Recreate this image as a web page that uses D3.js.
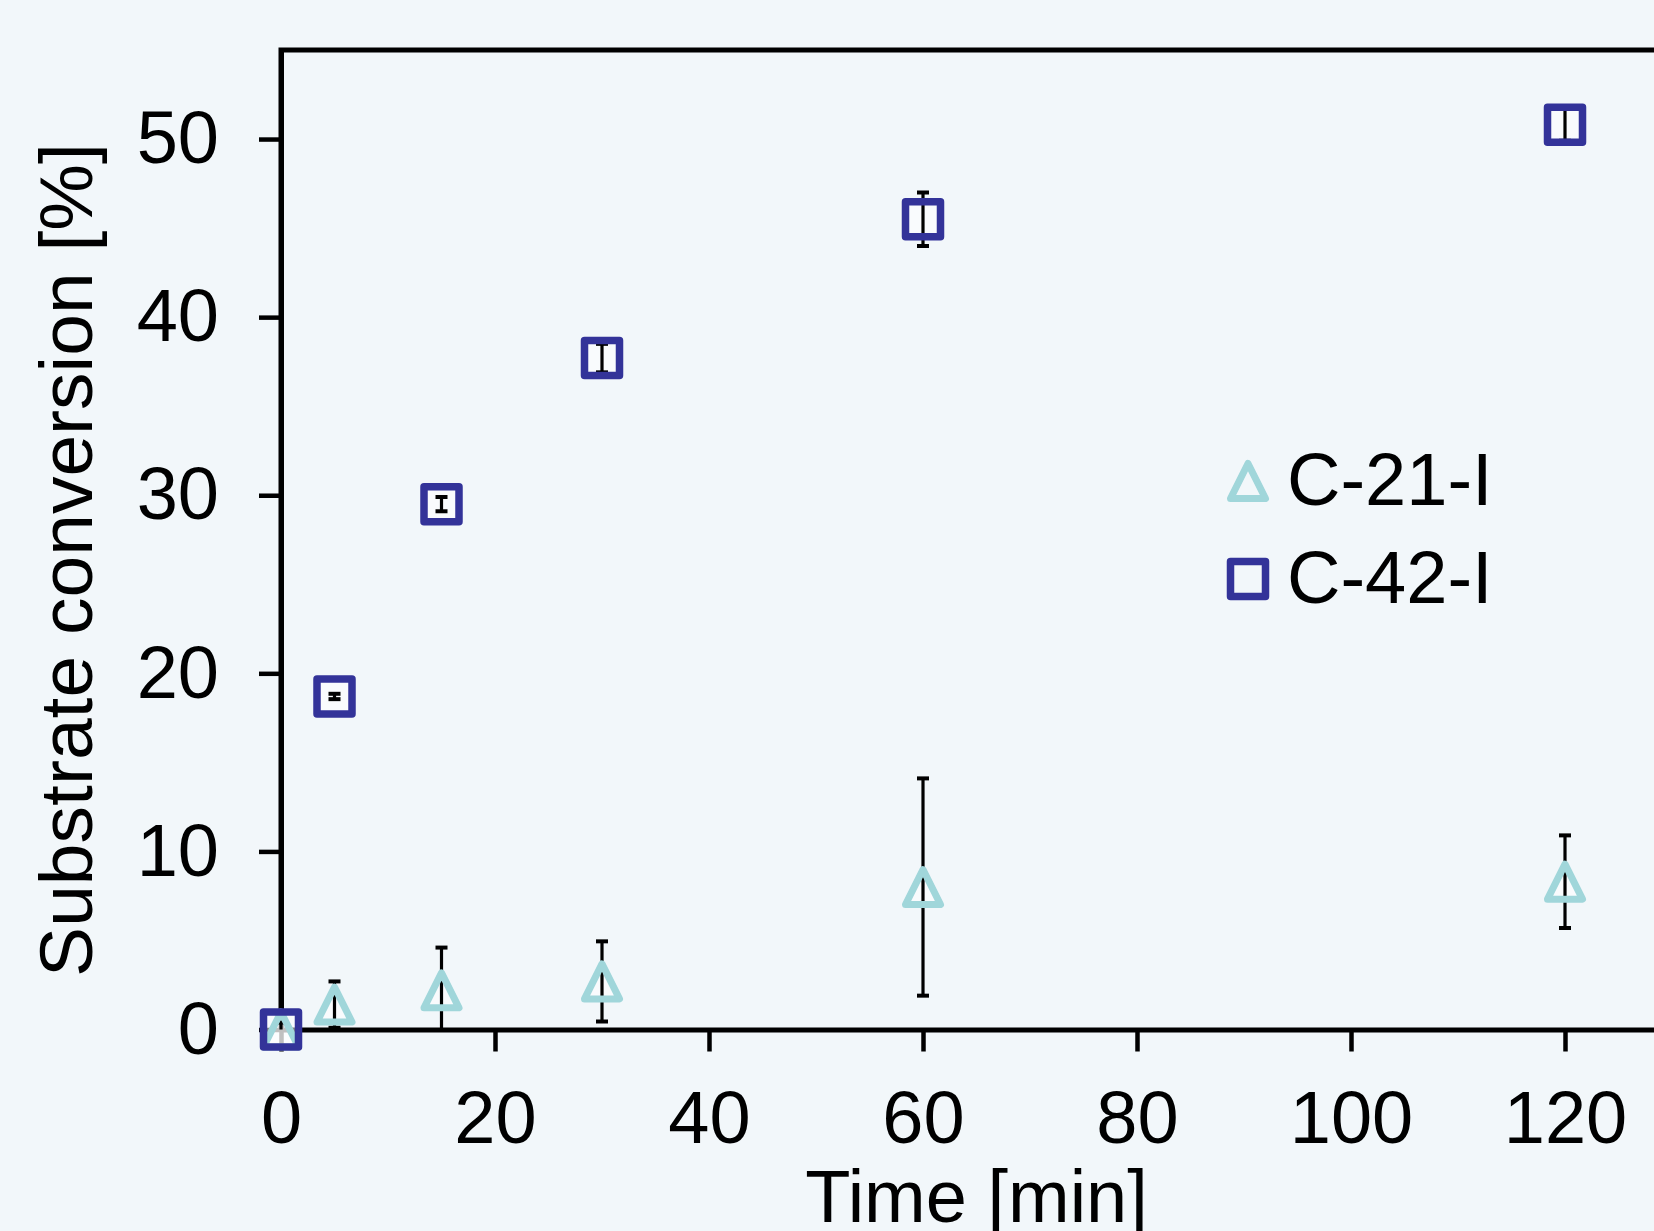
<!DOCTYPE html>
<html>
<head>
<meta charset="utf-8">
<script src="https://cdn.jsdelivr.net/npm/d3@7"></script>
<style>
  body { margin: 0; background: #f2f7fa; }
  svg { display: block; font-family: "Liberation Sans", Arial, sans-serif; }
</style>
</head>
<body>
<script>
// Data
var times = [0, 5, 15, 30, 60, 120];
var c21 = [0, 1.4, 2.2, 2.7, 8.0, 8.3];
var c21Err = [0.4, 1.3, 2.4, 2.25, 6.1, 2.6];
var c42 = [0, 18.7, 29.5, 37.7, 45.5, 50.8];
var c42Err = [0, 0.15, 0.4, 0.8, 1.5, 0.9];
var xTicks = [0, 20, 40, 60, 80, 100, 120];
var yTicks = [0, 10, 20, 30, 40, 50];
var seriesNames = ["C-21-I", "C-42-I"];

var width = 1654, height = 1231;
var margin = {top: 50, left: 281, bottom: 201.5};
var plotW = 1391, plotH = height - margin.top - margin.bottom;

var colTri = "#a0d6da", colSq = "#333399";

var svg = d3.select("body").append("svg")
    .attr("width", width)
    .attr("height", height);

svg.append("rect")
    .attr("width", width).attr("height", height)
    .attr("fill", "#f2f7fa");

var g = svg.append("g")
    .attr("transform", "translate(" + margin.left + "," + margin.top + ")");

var x = d3.scaleLinear().domain([0, 130]).range([0, plotW]);
var y = d3.scaleLinear().domain([0, 55]).range([plotH, 0]);

// clip for error bars (nothing below zero)
svg.append("defs").append("clipPath").attr("id", "plotclip")
  .append("rect")
    .attr("x", -20).attr("y", -10)
    .attr("width", plotW + 40).attr("height", plotH + 10);

// frame (right side runs off the picture)
g.append("path")
    .attr("d", "M0," + plotH + "V0H" + plotW)
    .attr("fill", "none")
    .attr("stroke", "#000")
    .attr("stroke-width", 5);

// axes
var xAxis = g.append("g")
    .attr("transform", "translate(0," + plotH + ")")
    .call(d3.axisBottom(x).tickValues(xTicks).tickSize(22).tickPadding(39).tickSizeOuter(0));

var yAxis = g.append("g")
    .call(d3.axisLeft(y).tickValues(yTicks).tickSize(22).tickPadding(40).tickSizeOuter(0));

[xAxis, yAxis].forEach(function(a) {
  a.select(".domain").attr("stroke", "#000").attr("stroke-width", 5);
  a.selectAll(".tick line").attr("stroke", "#000").attr("stroke-width", 4.5);
  a.selectAll(".tick text")
    .attr("fill", "#000")
    .style("font-size", "74px")
    .style("font-family", "'Liberation Sans', Arial, sans-serif");
});

// axis titles
svg.append("text")
    .attr("transform", "translate(92,560) rotate(-90)")
    .attr("text-anchor", "middle")
    .style("font-size", "75px")
    .text("Substrate conversion [%]");

svg.append("text")
    .attr("x", margin.left + x(65))
    .attr("y", 1222)
    .attr("text-anchor", "middle")
    .style("font-size", "74px")
    .text("Time [min]");

// marker shapes
function triPath(s) {
  var h = s / 2;
  return "M0," + (-h) + "L" + h + "," + h + "L" + (-h) + "," + h + "Z";
}
function sqPath(s) {
  var h = s / 2;
  return "M" + (-h) + "," + (-h) + "H" + h + "V" + h + "H" + (-h) + "Z";
}

var series = [
  {name: seriesNames[0], vals: c21, errs: c21Err, color: colTri, path: triPath(35), sw: 7},
  {name: seriesNames[1], vals: c42, errs: c42Err, color: colSq, path: sqPath(35), sw: 7.5}
];

// marker fills (under the error bars)
series.forEach(function(s) {
  g.append("g").selectAll("path")
    .data(times)
    .enter().append("path")
    .attr("d", s.path)
    .attr("transform", function(d, i) { return "translate(" + x(d) + "," + y(s.vals[i]) + ")"; })
    .attr("fill", "#ffffff")
    .attr("fill-opacity", 0.5);
});

// error bars
var errG = g.append("g").attr("clip-path", "url(#plotclip)");
series.forEach(function(s) {
  times.forEach(function(t, i) {
    var e = s.errs[i];
    if (!e) return;
    var cx = x(t), y1 = y(s.vals[i] + e), y0 = y(s.vals[i] - e);
    errG.append("line")
      .attr("x1", cx).attr("x2", cx).attr("y1", y1).attr("y2", y0)
      .attr("stroke", "#000").attr("stroke-width", 3.2);
    [y1, y0].forEach(function(cy) {
      errG.append("line")
        .attr("x1", cx - 6).attr("x2", cx + 6).attr("y1", cy).attr("y2", cy)
        .attr("stroke", "#000").attr("stroke-width", 4);
    });
  });
});

// marker outlines
series.forEach(function(s) {
  g.append("g").selectAll("path")
    .data(times)
    .enter().append("path")
    .attr("d", s.path)
    .attr("transform", function(d, i) { return "translate(" + x(d) + "," + y(s.vals[i]) + ")"; })
    .attr("fill", "none")
    .attr("stroke", s.color)
    .attr("stroke-width", s.sw)
    .attr("stroke-linejoin", "round");
});

// legend
var legend = svg.append("g");
series.forEach(function(s, i) {
  var ly = 481 + i * 98;
  legend.append("path")
    .attr("d", s.path)
    .attr("transform", "translate(1248," + ly + ")")
    .attr("fill", "none")
    .attr("stroke", s.color)
    .attr("stroke-width", s.sw)
    .attr("stroke-linejoin", "round");
  legend.append("text")
    .attr("x", 1287)
    .attr("y", ly + 24)
    .style("font-size", "74px")
    .text(s.name);
});
</script>
</body>
</html>
